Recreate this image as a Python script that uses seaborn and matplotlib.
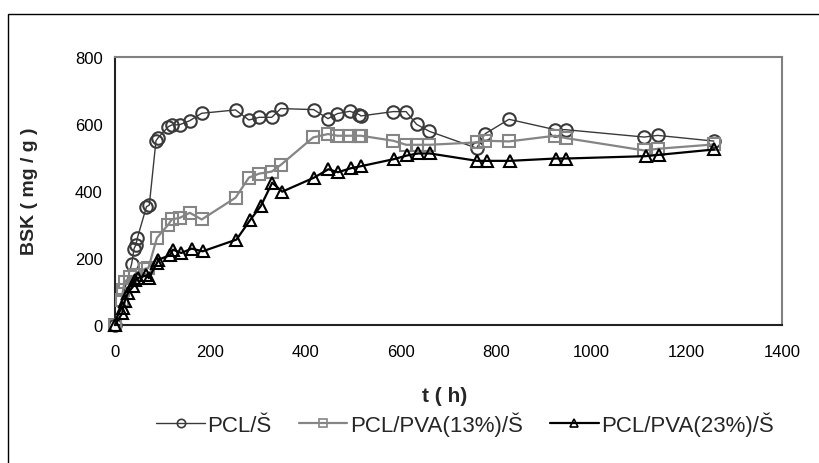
import matplotlib
matplotlib.use("Agg")
import matplotlib.pyplot as plt
import seaborn as sns
import pandas as pd
from matplotlib.patches import Rectangle

# ---- data ----
series_names = ["PCL/Š", "PCL/PVA(13%)/Š", "PCL/PVA(23%)/Š"]

t_pcl = [0, 35, 40, 44, 47, 66, 72, 86, 90, 112, 119, 136, 157, 182, 253, 281, 303, 329, 348,
         417, 447, 467, 493, 513, 516, 584, 611, 633, 660, 759, 777, 827, 924, 946, 1111, 1139, 1257]
v_pcl = [0, 183, 228, 240, 260, 353, 358, 550, 558, 592, 597, 598, 610, 632, 642, 612, 620, 620, 646,
         643, 616, 631, 638, 628, 624, 637, 637, 599, 578, 528, 571, 614, 583, 583, 561, 566, 549]

t_pva13 = [0, 14, 17, 20, 31, 42, 63, 70, 88, 112, 119, 136, 157, 182, 253, 281, 303, 329, 348,
           416, 447, 467, 493, 513, 516, 584, 611, 634, 660, 759, 777, 827, 924, 946, 1111, 1139, 1257]
v_pva13 = [0, 75, 105, 128, 143, 148, 168, 170, 260, 300, 315, 320, 335, 315, 380, 440, 452, 458, 478,
           560, 570, 565, 565, 565, 565, 550, 538, 538, 538, 545, 550, 548, 565, 558, 521, 526, 539]

t_pva23 = [0, 15, 17, 21, 27, 38, 43, 48, 66, 71, 88, 91, 115, 122, 139, 161, 184, 255, 283, 306, 330,
           351, 418, 448, 468, 495, 516, 585, 613, 636, 661, 760, 780, 829, 925, 947, 1114, 1142, 1258]
v_pva23 = [0, 35, 50, 73, 95, 115, 133, 140, 148, 140, 185, 195, 208, 225, 215, 228, 220, 255, 312, 355, 425,
           398, 440, 465, 456, 468, 474, 495, 506, 512, 512, 490, 490, 490, 497, 497, 504, 508, 524]

x_ticks = [0, 200, 400, 600, 800, 1000, 1200, 1400]
y_ticks = [0, 200, 400, 600, 800]
x_label = "t ( h)"
y_label = "BSK ( mg / g )"

# ---- style ----
sns.set_theme(style="white")
plt.rcParams["font.family"] = ["Liberation Sans", "DejaVu Sans"]

fig = plt.figure(figsize=(8.19, 4.64), dpi=100)
ax = fig.add_axes([115 / 819, 1 - 326 / 464, (782 - 115) / 819, (326 - 58) / 464])

# outer frame (left and top edges visible)
fig.patches.append(Rectangle((8 / 819, -0.05), 1.2, 1 - 15 / 464 + 0.05,
                             transform=fig.transFigure, fill=False,
                             edgecolor="black", linewidth=1.0))

styles = [
    dict(color="#3a3a3a", marker="o", lw=1.0, ms=9),
    dict(color="#858585", marker="s", lw=1.6, ms=8),
    dict(color="#000000", marker="^", lw=1.6, ms=9),
]
datas = [(t_pcl, v_pcl), (t_pva13, v_pva13), (t_pva23, v_pva23)]

handles = []
for name, (t, v), st in zip(series_names, datas, styles):
    df = pd.DataFrame({"t": t, "v": v})
    sns.lineplot(data=df, x="t", y="v", ax=ax, color=st["color"], linewidth=st["lw"],
                 marker=st["marker"], markersize=st["ms"], markerfacecolor="none",
                 markeredgecolor=st["color"], markeredgewidth=1.5, label=name,
                 sort=False, legend=False, clip_on=False, zorder=3)
    h, = ax.plot([], [], color=st["color"], lw=st["lw"], marker=st["marker"], ms=6,
                 markerfacecolor="none", markeredgecolor=st["color"], markeredgewidth=1.2)
    handles.append(h)

ax.set_xlim(0, 1400)
ax.set_ylim(0, 800)
ax.set_xticks(x_ticks)
ax.set_yticks(y_ticks)
ax.tick_params(axis="both", direction="in", length=4, width=1, labelsize=12, colors="black")
ax.tick_params(axis="y", pad=9)
ax.tick_params(axis="x", pad=14)

for side in ["left", "bottom"]:
    ax.spines[side].set_color("#222222")
    ax.spines[side].set_linewidth(1.5)
for side in ["top", "right"]:
    ax.spines[side].set_color("#808080")
    ax.spines[side].set_linewidth(1.5)

ax.set_xlabel("")
ax.set_ylabel("")
fig.text(445 / 819, 1 - 397 / 464, x_label, ha="center", va="center",
         fontsize=15, fontweight="bold")
fig.text(30 / 819, 1 - 191 / 464, y_label, ha="center", va="center", rotation=90,
         fontsize=14, fontweight="bold")

fig.legend(handles, series_names, loc="center", bbox_to_anchor=(465 / 819, 1 - 425 / 464),
           ncol=3, frameon=False, fontsize=16, handlelength=2.2, handletextpad=0.12,
           columnspacing=1.2)

fig.savefig("out.png", dpi=100, facecolor="white")
